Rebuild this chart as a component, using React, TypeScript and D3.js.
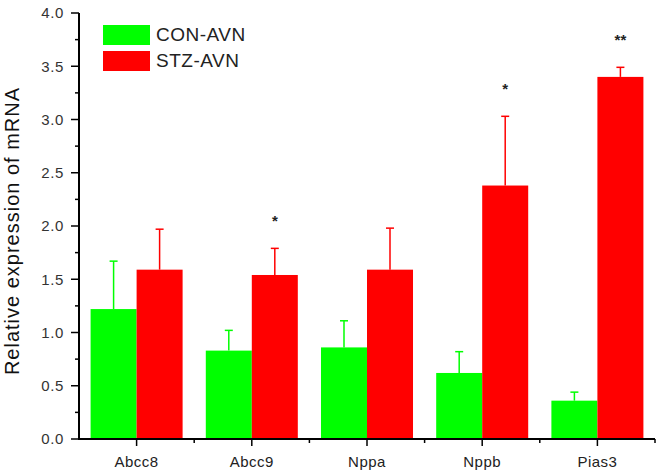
import React from 'react';
import * as d3 from 'd3';

const categories = ['Abcc8', 'Abcc9', 'Nppa', 'Nppb', 'Pias3'];
const seriesNames = ['CON-AVN', 'STZ-AVN'];
const conMean = [1.22, 0.83, 0.86, 0.62, 0.36];
const conErr = [0.45, 0.19, 0.25, 0.2, 0.08];
const stzMean = [1.59, 1.54, 1.59, 2.38, 3.4];
const stzErr = [0.38, 0.25, 0.39, 0.65, 0.09];
const marks = ['', '*', '', '*', '**'];
const colors = ['#00ff00', '#ff0000'];

const W = 661;
const H = 475;
const margin = { top: 13, right: 6, bottom: 36, left: 79 };
const font = '"Liberation Sans", Arial, sans-serif';

const App = () => {
  const x = d3.scaleBand().domain(categories).range([margin.left, W - margin.right]).padding(0);
  const inner = d3.scaleBand().domain(seriesNames).range([0, x.bandwidth()]).paddingInner(0).paddingOuter(0.252);
  const y = d3.scaleLinear().domain([0, 4]).range([H - margin.bottom, margin.top]);

  const series = [
    { name: seriesNames[0], mean: conMean, err: conErr, color: colors[0] },
    { name: seriesNames[1], mean: stzMean, err: stzErr, color: colors[1] },
  ];

  const majorTicks = d3.range(0, 4.01, 0.5);
  const minorTicks = d3.range(0.25, 4, 0.5);
  const y0 = y(0);

  return (
    <svg width={W} height={H} style={{ position: 'fixed', left: 0, top: 0, background: '#fff' }}>
      {series.map((s) => (
        <g key={s.name}>
          {categories.map((c, i) => {
            const bx = (x(c) as number) + (inner(s.name) as number);
            const bw = inner.bandwidth();
            const cx = bx + bw / 2;
            return (
              <g key={c}>
                <rect x={bx} y={y(s.mean[i])} width={bw} height={y0 - y(s.mean[i])} fill={s.color} />
                <line x1={cx} x2={cx} y1={y(s.mean[i])} y2={y(s.mean[i] + s.err[i])} stroke={s.color} strokeWidth={1.5} />
                <line x1={cx - 4} x2={cx + 4} y1={y(s.mean[i] + s.err[i])} y2={y(s.mean[i] + s.err[i])} stroke={s.color} strokeWidth={1.5} />
              </g>
            );
          })}
        </g>
      ))}

      {categories.map((c, i) => {
        if (!marks[i]) return null;
        const cx = (x(c) as number) + (inner(seriesNames[1]) as number) + inner.bandwidth() / 2;
        return (
          <text key={c} x={cx} y={y(stzMean[i] + stzErr[i]) - 22} textAnchor="middle" fontFamily={font} fontSize={15} fontWeight="bold" fill="#222">
            {marks[i]}
          </text>
        );
      })}

      {/* y axis */}
      <line x1={margin.left} x2={margin.left} y1={y(4)} y2={y0 + 1} stroke="#000" strokeWidth={2} />
      {majorTicks.map((t) => (
        <g key={t}>
          <line x1={margin.left - 8} x2={margin.left} y1={y(t)} y2={y(t)} stroke="#000" strokeWidth={1.5} />
          <text x={margin.left - 15} y={y(t)} dy="0.35em" textAnchor="end" fontFamily={font} fontSize={15} letterSpacing={0.6} fill="#333">
            {t.toFixed(1)}
          </text>
        </g>
      ))}
      {minorTicks.map((t) => (
        <line key={t} x1={margin.left - 4} x2={margin.left} y1={y(t)} y2={y(t)} stroke="#000" strokeWidth={1.5} />
      ))}
      <text transform={`translate(19,${(y(0) + y(4)) / 2 + 5}) rotate(-90)`} textAnchor="middle" fontFamily={font} fontSize={20} letterSpacing={1} fill="#111">
        Relative expression of mRNA
      </text>

      {/* x axis */}
      <line x1={margin.left - 1} x2={W - margin.right} y1={y0} y2={y0} stroke="#000" strokeWidth={2} />
      {categories.map((c) => {
        const cx = (x(c) as number) + x.bandwidth() / 2;
        return (
          <g key={c}>
            <line x1={cx} x2={cx} y1={y0} y2={y0 + 7} stroke="#000" strokeWidth={1.5} />
            <text x={cx} y={y0 + 28} textAnchor="middle" fontFamily={font} fontSize={15} letterSpacing={0.5} fill="#222">
              {c}
            </text>
          </g>
        );
      })}
      {categories.map((c) => (
        <line key={c} x1={(x(c) as number) + x.bandwidth()} x2={(x(c) as number) + x.bandwidth()} y1={y0} y2={y0 + 4} stroke="#000" strokeWidth={1.5} />
      ))}

      {/* legend */}
      {series.map((s, i) => (
        <g key={s.name} transform={`translate(103,${25 + i * 26})`}>
          <rect x={0} y={0} width={47} height={20} fill={s.color} />
          <text x={53} y={16} fontFamily={font} fontSize={19} letterSpacing={0.5} fill="#222">
            {s.name}
          </text>
        </g>
      ))}
    </svg>
  );
};

export default App;
